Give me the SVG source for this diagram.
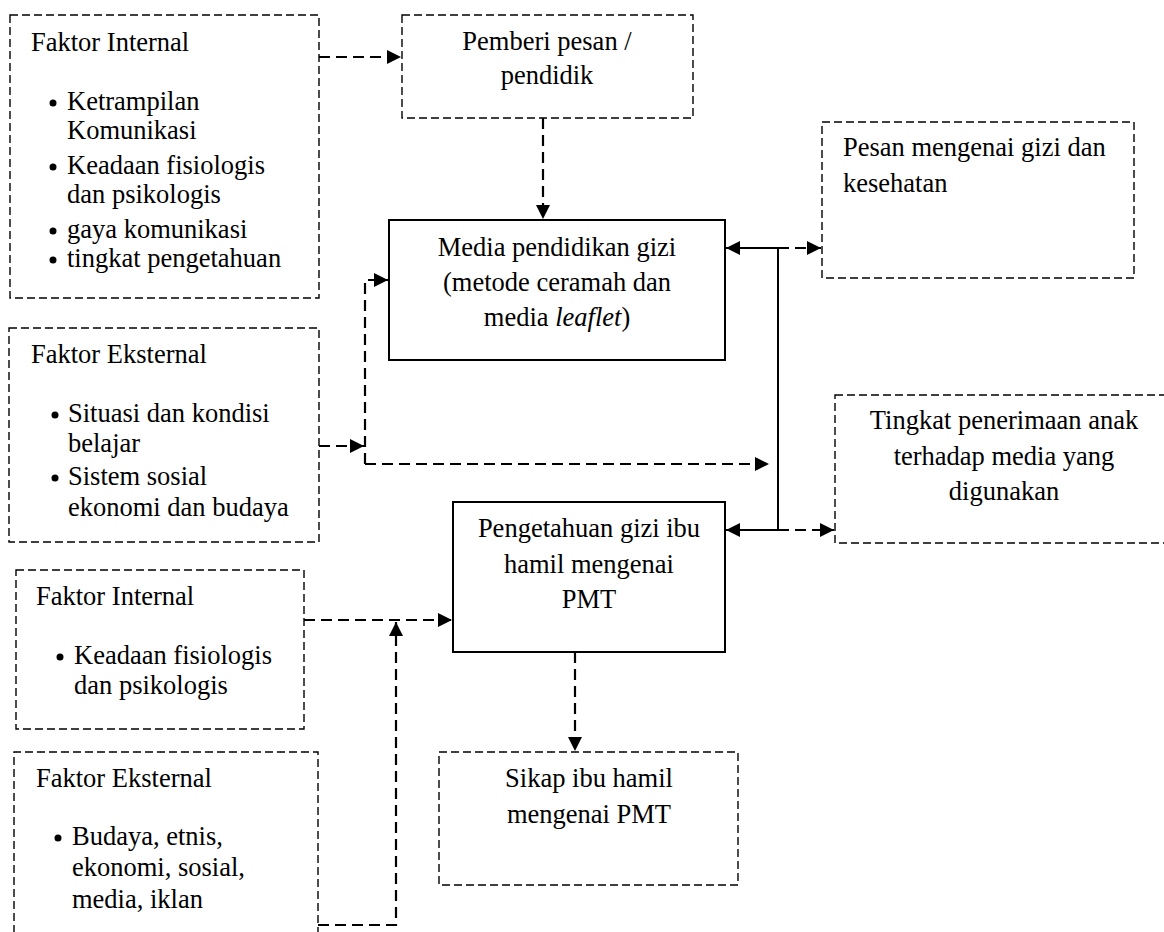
<svg xmlns="http://www.w3.org/2000/svg" width="1164" height="932" viewBox="0 0 1164 932">
<style>
text{font-family:'Liberation Serif','Times New Roman',Times,serif;font-size:26.5px;fill:#000}
.c{text-anchor:middle}
.db{fill:none;stroke:#000;stroke-width:1.4;stroke-dasharray:8 4}
.sb{fill:none;stroke:#000;stroke-width:2}
.dl{fill:none;stroke:#000;stroke-width:2.2;stroke-dasharray:11 6}
.sl{fill:none;stroke:#000;stroke-width:2}
.bu{fill:#000}
</style>
<defs>
<marker id="ah" markerUnits="userSpaceOnUse" markerWidth="16" markerHeight="16" viewBox="0 0 16 16" refX="15" refY="8" orient="auto">
<path d="M1 1 L15 8 L1 15 Z" fill="#000"/>
</marker>
</defs>
<rect width="1164" height="932" fill="#fff"/>

<g id="faktor-internal-1" font-family="Liberation Serif, serif">
<rect class="db" x="10" y="15" width="309" height="283"/>
<text x="31" y="51">Faktor Internal</text>
<circle class="bu" cx="53" cy="103" r="3.5"/>
<text x="67" y="110">Ketrampilan</text>
<text x="67" y="139">Komunikasi</text>
<circle class="bu" cx="53" cy="167" r="3.5"/>
<text x="67" y="174">Keadaan fisiologis</text>
<text x="67" y="203">dan psikologis</text>
<circle class="bu" cx="53" cy="231" r="3.5"/>
<text x="67" y="238">gaya komunikasi</text>
<circle class="bu" cx="53" cy="260" r="3.5"/>
<text x="67" y="267">tingkat pengetahuan</text>
</g>

<g id="pemberi-pesan">
<rect class="db" x="402" y="15" width="291" height="103"/>
<text class="c" x="547" y="50">Pemberi pesan /</text>
<text class="c" x="547" y="84">pendidik</text>
</g>

<g id="media-pendidikan">
<rect class="sb" x="389" y="220" width="336" height="140"/>
<text class="c" x="557" y="256">Media pendidikan gizi</text>
<text class="c" x="557" y="291">(metode ceramah dan</text>
<text class="c" x="557" y="326">media <tspan font-style="italic">leaflet</tspan>)</text>
</g>

<g id="pesan-gizi">
<rect class="db" x="822" y="122" width="312" height="156"/>
<text x="843" y="156">Pesan mengenai gizi dan</text>
<text x="843" y="192">kesehatan</text>
</g>

<g id="faktor-eksternal-1">
<rect class="db" x="9" y="328" width="310" height="214"/>
<text x="31" y="363">Faktor Eksternal</text>
<circle class="bu" cx="55" cy="415" r="3.5"/>
<text x="68" y="422">Situasi dan kondisi</text>
<text x="68" y="452">belajar</text>
<circle class="bu" cx="55" cy="478" r="3.5"/>
<text x="68" y="485">Sistem sosial</text>
<text x="68" y="516">ekonomi dan budaya</text>
</g>

<g id="tingkat-penerimaan">
<rect class="db" x="835" y="395" width="340" height="148"/>
<text class="c" x="1004" y="429">Tingkat penerimaan anak</text>
<text class="c" x="1004" y="465">terhadap media yang</text>
<text class="c" x="1004" y="500">digunakan</text>
</g>

<g id="pengetahuan-gizi">
<rect class="sb" x="453" y="502" width="272" height="150"/>
<text class="c" x="589" y="537">Pengetahuan gizi ibu</text>
<text class="c" x="589" y="573">hamil mengenai</text>
<text class="c" x="589" y="608">PMT</text>
</g>

<g id="faktor-internal-2">
<rect class="db" x="16" y="570" width="288" height="159"/>
<text x="36" y="605">Faktor Internal</text>
<circle class="bu" cx="60" cy="657" r="3.5"/>
<text x="74" y="664">Keadaan fisiologis</text>
<text x="74" y="694">dan psikologis</text>
</g>

<g id="sikap-ibu">
<rect class="db" x="439" y="752" width="299" height="133"/>
<text class="c" x="589" y="787">Sikap ibu hamil</text>
<text class="c" x="589" y="823">mengenai PMT</text>
</g>

<g id="faktor-eksternal-2">
<path class="db" d="M14 945 V752 H318 V945"/>
<text x="36" y="787">Faktor Eksternal</text>
<circle class="bu" cx="58" cy="838" r="3.5"/>
<text x="72" y="845">Budaya, etnis,</text>
<text x="72" y="876">ekonomi, sosial,</text>
<text x="72" y="908">media, iklan</text>
</g>

<g id="connectors">
<path class="dl" d="M319 57 H401" marker-end="url(#ah)"/>
<path class="dl" d="M543 118 V219" marker-end="url(#ah)"/>
<path class="dl" d="M319 446 H364" marker-end="url(#ah)"/>
<path class="dl" d="M365 464 V280 H388" marker-end="url(#ah)"/>
<path class="dl" d="M365 464 H769" marker-end="url(#ah)"/>
<path class="sl" d="M778 248 V530"/>
<path class="sl" d="M778 248 H726" marker-end="url(#ah)"/>
<path class="sl" d="M778 530 H726" marker-end="url(#ah)"/>
<path class="dl" d="M778 248 H821" marker-end="url(#ah)"/>
<path class="dl" d="M778 530 H834" marker-end="url(#ah)"/>
<path class="dl" d="M304 620 H452" marker-end="url(#ah)"/>
<path class="dl" d="M318 925 H396 V622" marker-end="url(#ah)"/>
<path class="dl" d="M575 652 V751" marker-end="url(#ah)"/>
</g>
</svg>
